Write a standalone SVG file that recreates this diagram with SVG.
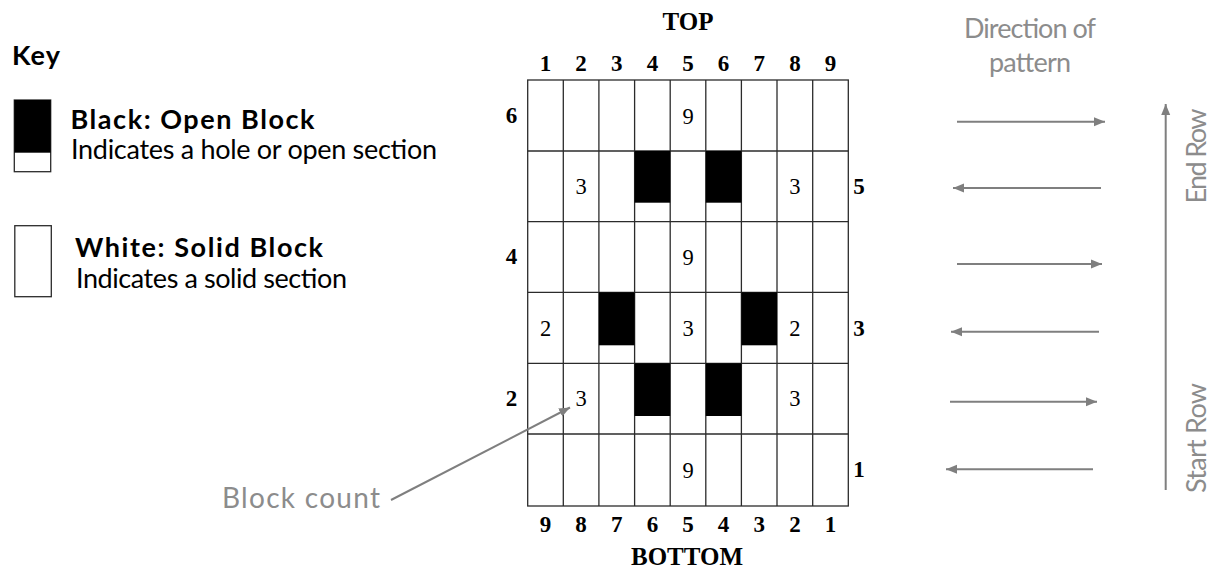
<svg xmlns="http://www.w3.org/2000/svg" width="1215" height="571" viewBox="0 0 1215 571">
<style>
.sans{font-family:Lato,"Open Sans","Liberation Sans",sans-serif;font-size:27px}
.lg{font-size:28px}
.b{font-weight:bold}
.gray{fill:#8c8c8c}
.serif{font-family:"Liberation Serif","Times New Roman",serif}
.hd{font-size:23px;font-weight:bold;text-anchor:middle}
.cn{font-size:22.5px;text-anchor:middle}
.ttl{font-size:25px;font-weight:bold;text-anchor:middle}
.cell{fill:#fff;stroke:#2b2b2b;stroke-width:1.3}
.blk{fill:#000}
.arr{stroke:#7f7f7f;stroke-width:2;fill:none;marker-end:url(#ah)}
</style>
<defs>
<marker id="ah" markerUnits="userSpaceOnUse" markerWidth="12" markerHeight="10" refX="11" refY="5" orient="auto">
<path d="M0,0.5 L11,5 L0,9.5 Z" fill="#7f7f7f"/>
</marker>
</defs>
<rect width="1215" height="571" fill="#fff"/>

<g id="key">
<text class="sans b" x="12" y="65" textLength="48">Key</text>
<g id="key-open">
<rect class="cell" x="14.3" y="100" width="36.4" height="71.7"/>
<rect class="blk" x="14.3" y="100" width="36.4" height="52.7"/>
<text class="sans b" x="70.5" y="129" textLength="244">Black: Open Block</text>
<text class="sans" x="71" y="159" textLength="366">Indicates a hole or open section</text>
</g>
<g id="key-solid">
<rect class="cell" x="14.8" y="225.7" width="36.5" height="71"/>
<text class="sans b" x="75" y="256.5" textLength="248">White: Solid Block</text>
<text class="sans" x="76" y="288" textLength="271">Indicates a solid section</text>
</g>
</g>

<g id="grid">
<g id="cells">
<rect class="cell" x="527.7" y="80" width="320.6" height="426"/>
<g stroke="#2b2b2b" stroke-width="1.3">
<line x1="563.3" y1="80" x2="563.3" y2="506"/>
<line x1="598.9" y1="80" x2="598.9" y2="506"/>
<line x1="634.6" y1="80" x2="634.6" y2="506"/>
<line x1="670.2" y1="80" x2="670.2" y2="506"/>
<line x1="705.8" y1="80" x2="705.8" y2="506"/>
<line x1="741.4" y1="80" x2="741.4" y2="506"/>
<line x1="777.0" y1="80" x2="777.0" y2="506"/>
<line x1="812.7" y1="80" x2="812.7" y2="506"/>
<line x1="527.7" y1="151" x2="848.3" y2="151"/>
<line x1="527.7" y1="221.7" x2="848.3" y2="221.7"/>
<line x1="527.7" y1="292.3" x2="848.3" y2="292.3"/>
<line x1="527.7" y1="363.3" x2="848.3" y2="363.3"/>
<line x1="527.7" y1="434" x2="848.3" y2="434"/>
</g>
</g>
<g id="open-blocks">
<rect class="blk" x="634.6" y="151" width="35.6" height="51.7"/>
<rect class="blk" x="705.8" y="151" width="35.6" height="51.7"/>
<rect class="blk" x="598.9" y="292.3" width="35.7" height="53"/>
<rect class="blk" x="741.4" y="292.3" width="35.6" height="53"/>
<rect class="blk" x="634.6" y="363.3" width="35.6" height="52.7"/>
<rect class="blk" x="705.8" y="363.3" width="35.6" height="52.7"/>
</g>
<g id="counts" class="serif cn">
<text x="688" y="123.5">9</text>
<text x="581.1" y="193.5">3</text>
<text x="794.9" y="193.5">3</text>
<text x="688" y="264.5">9</text>
<text x="545.5" y="335.5">2</text>
<text x="688" y="335.5">3</text>
<text x="794.9" y="335.5">2</text>
<text x="581.1" y="406">3</text>
<text x="794.9" y="406">3</text>
<text x="688" y="477.5">9</text>
</g>
<g id="col-top" class="serif hd">
<text x="545.5" y="70.5">1</text>
<text x="581.1" y="70.5">2</text>
<text x="616.8" y="70.5">3</text>
<text x="652.4" y="70.5">4</text>
<text x="688" y="70.5">5</text>
<text x="723.6" y="70.5">6</text>
<text x="759.2" y="70.5">7</text>
<text x="794.9" y="70.5">8</text>
<text x="830.5" y="70.5">9</text>
</g>
<g id="col-bottom" class="serif hd">
<text x="545.5" y="531.5">9</text>
<text x="581.1" y="531.5">8</text>
<text x="616.8" y="531.5">7</text>
<text x="652.4" y="531.5">6</text>
<text x="688" y="531.5">5</text>
<text x="723.6" y="531.5">4</text>
<text x="759.2" y="531.5">3</text>
<text x="794.9" y="531.5">2</text>
<text x="830.5" y="531.5">1</text>
</g>
<g id="row-labels" class="serif hd">
<text x="511.5" y="123">6</text>
<text x="511.5" y="264">4</text>
<text x="511.5" y="405.5">2</text>
<text x="859" y="193.5">5</text>
<text x="859" y="335.5">3</text>
<text x="859" y="476.5">1</text>
</g>
<text class="serif ttl" x="688" y="30">TOP</text>
<text class="serif ttl" x="687" y="565">BOTTOM</text>
</g>

<g id="direction-labels" class="sans gray">
<text x="1030" y="38" text-anchor="middle" textLength="132">Direction of</text>
<text x="1030" y="72" text-anchor="middle" textLength="82">pattern</text>
<text transform="translate(1206,156) rotate(-90)" text-anchor="middle" textLength="95">End Row</text>
<text transform="translate(1206,438) rotate(-90)" text-anchor="middle" textLength="110">Start Row</text>
</g>
<g id="block-count-label">
<text class="sans lg gray" x="222" y="508" textLength="158">Block count</text>
</g>

<g id="connectors">
<line class="arr" x1="957" y1="121.7" x2="1105" y2="121.7"/>
<line class="arr" x1="1101" y1="188" x2="953" y2="188"/>
<line class="arr" x1="957" y1="264" x2="1102" y2="264"/>
<line class="arr" x1="1099" y1="331.7" x2="951" y2="331.7"/>
<line class="arr" x1="950" y1="401.7" x2="1097" y2="401.7"/>
<line class="arr" x1="1093" y1="469.3" x2="946" y2="469.3"/>
<line class="arr" x1="1165.7" y1="490" x2="1165.7" y2="104"/>
<line class="arr" x1="391" y1="500" x2="570" y2="407.5"/>
</g>
</svg>
